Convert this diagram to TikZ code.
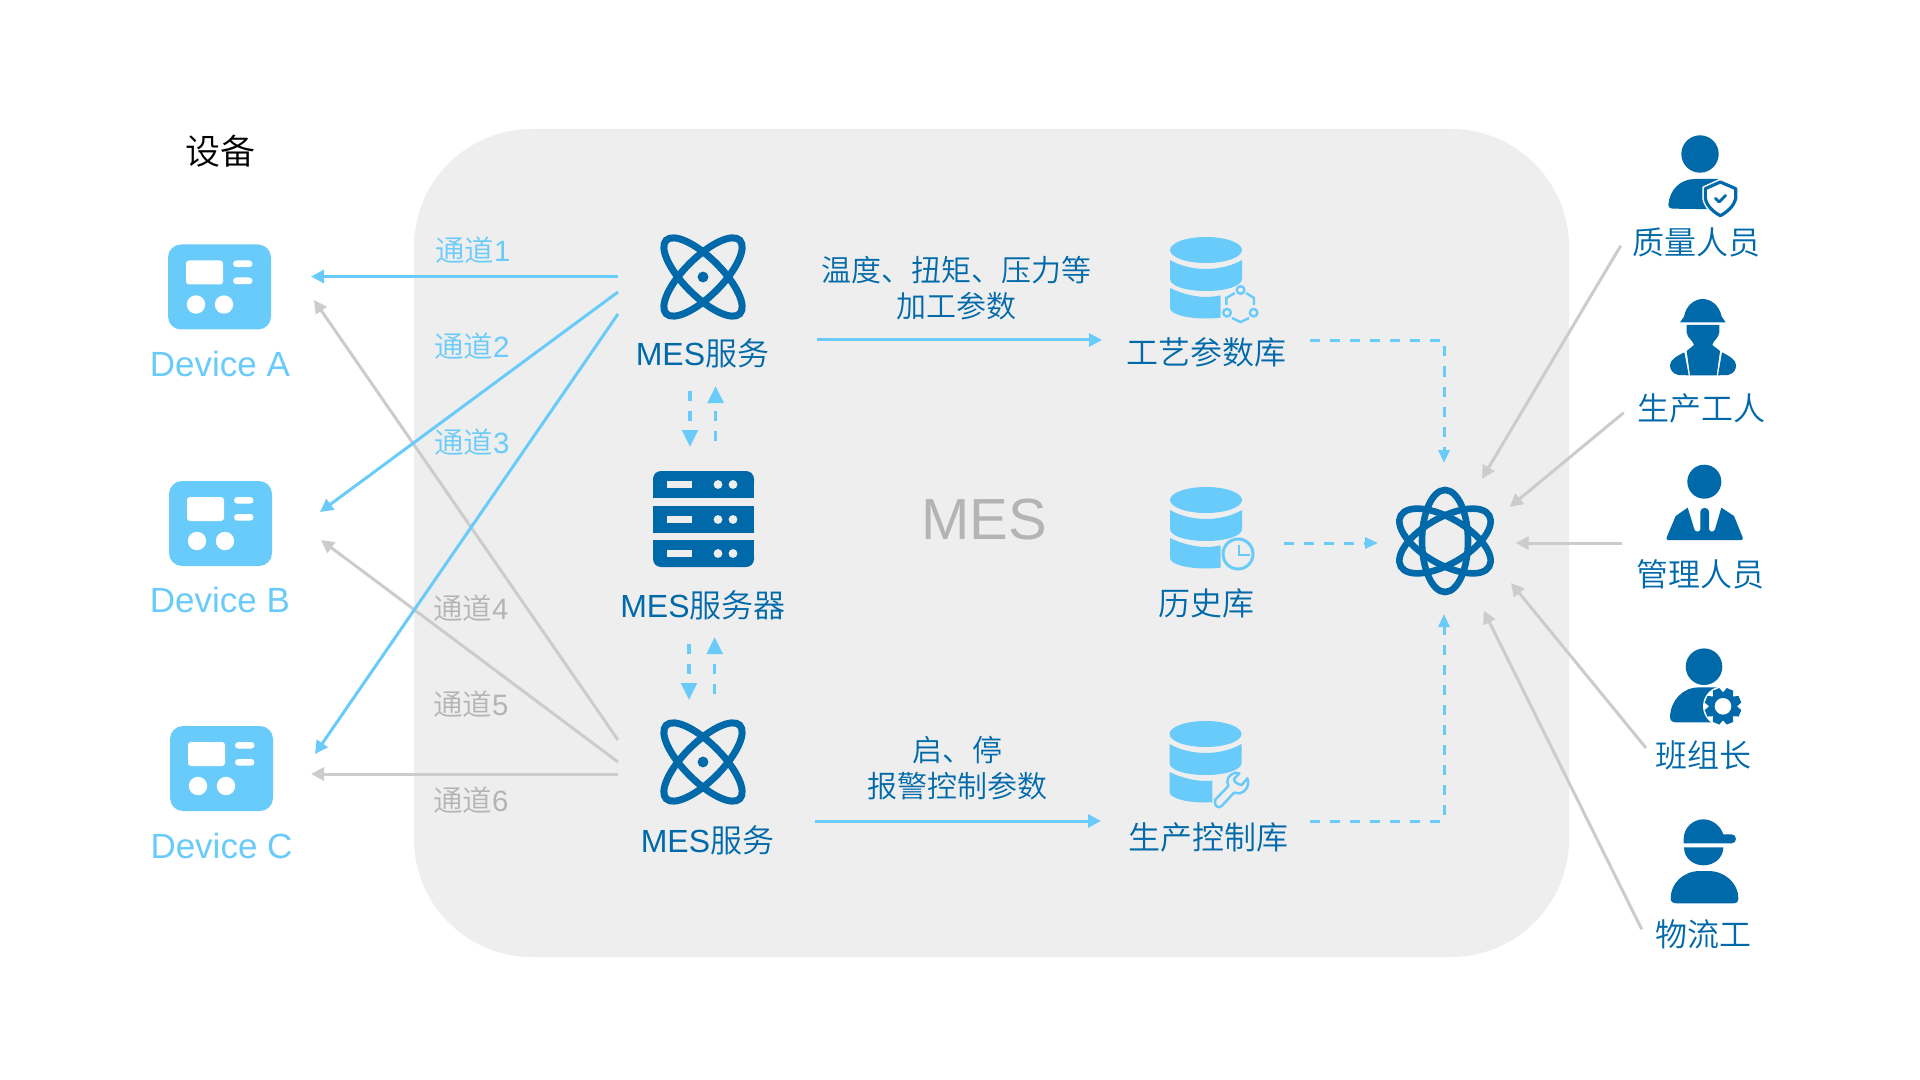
\documentclass[tikz,border=0pt]{standalone}
\usepackage{fontspec}
\usetikzlibrary{arrows.meta}
\newfontfamily\cjk{Noto Sans CJK SC}[UprightFont=* DemiLight]
\newfontfamily\lat{Liberation Sans}
\definecolor{lb}{HTML}{69CBFA}
\definecolor{db}{HTML}{0069AA}
\definecolor{pn}{HTML}{EEEEEE}
\definecolor{gl}{HTML}{CCCCCC}
\definecolor{gt}{HTML}{B4B4B4}
\tikzset{
 lab/.style={inner sep=0pt,align=center,text=db,font=\cjk\fontsize{16}{18}\selectfont},
 edgelab/.style={lab,font=\cjk\fontsize{15}{18}\selectfont},
 chan/.style={inner sep=0pt,text=lb,font=\cjk\fontsize{14.7}{17}\selectfont},
 changray/.style={chan,text=gt},
 devlab/.style={inner sep=0pt,text=lb,font=\lat\fontsize{17.5}{20}\selectfont},
 bluearrow/.style={draw=lb,line width=1.5pt,-{Triangle[length=6.5pt,width=6.5pt,fill=lb]}},
 grayarrow/.style={draw=gl,line width=1.5pt,-{Triangle[length=6.5pt,width=6.5pt,fill=gl]}},
 dasharrow/.style={draw=lb,line width=1.5pt,dash pattern=on 5pt off 5pt,-{Triangle[length=6.5pt,width=5.5pt,fill=lb]}},
 dashbig/.style={draw=lb,line width=1.7pt,dash pattern=on 5pt off 5pt,-{Triangle[length=8.5pt,width=7.8pt,fill=lb]}},
}
\newcommand{\deviceicon}[2]{%
 \begin{scope}[shift={(#1,#2)}]
  \fill[lb,rounded corners=6.5pt] (168,244) rectangle (271,329);
  \fill[white,rounded corners=1.5pt] (186,260) rectangle (223,284);
  \fill[white,rounded corners=1.7pt] (233,260) rectangle (252.5,266.7);
  \fill[white,rounded corners=1.7pt] (233,277) rectangle (252.5,283.7);
  \fill[white] (196,304) circle[radius=9.2];
  \fill[white] (224,304) circle[radius=9.2];
 \end{scope}}
\newcommand{\atomicon}[2]{%
 \draw[db,line width=3.5pt,rotate around={45:(#1,#2)}] (#1,#2) ellipse[x radius=52,y radius=19];
 \draw[db,line width=3.5pt,rotate around={-45:(#1,#2)}] (#1,#2) ellipse[x radius=52,y radius=19];
 \fill[db] (#1,#2) circle[radius=5.4];}
\newcommand{\dbicon}[3]{%
 \begin{scope}[shift={(#1,#2)}]
  \fill[lb] (0,0) ellipse[x radius=36,y radius=13];
  \fill[lb] (-36,10) .. controls (-26,16) and (-12,19) .. (0,19) .. controls (12,19) and (26,16) .. (36,10) -- (36,29) .. controls (36,36) and (20,41) .. (0,41) .. controls (-20,41) and (-36,36) .. (-36,29) -- cycle;
  \begin{scope}
   \clip (-40,30) rectangle (#3,75);
   \fill[lb] (-36,38) .. controls (-26,43) and (-12,47) .. (0,47) .. controls (12,47) and (26,43) .. (36,38) -- (36,58) .. controls (36,64) and (20,68.5) .. (0,68.5) .. controls (-20,68.5) and (-36,64) .. (-36,58) -- cycle;
  \end{scope}
 \end{scope}}
\begin{document}
\begin{tikzpicture}[x=0.5pt,y=-0.5pt]
\useasboundingbox (0,0) rectangle (1920,1080);
\fill[white] (0,0) rectangle (1920,1080);
\fill[pn,rounded corners=59pt] (414,129) rectangle (1569,957);

% --- texts
\node[inner sep=0pt,font=\cjk\fontsize{17.5}{20}\selectfont] (title) at (220,151) {设备};
\node[devlab] (devA) at (220,363.5) {Device A};
\node[devlab] (devB) at (220,599.5) {Device B};
\node[devlab] (devC) at (221.5,845.5) {Device C};
\node[chan] (ch1) at (473,250) {通道{\lat 1}};
\node[chan] (ch2) at (472,346) {通道{\lat 2}};
\node[chan] (ch3) at (472,442) {通道{\lat 3}};
\node[changray] (ch4) at (471,608.5) {通道{\lat 4}};
\node[changray] (ch5) at (471,704) {通道{\lat 5}};
\node[changray] (ch6) at (471,800) {通道{\lat 6}};
\node[lab] (svc1) at (702.5,353) {{\lat MES}服务};
\node[lab] (srv) at (703,605) {{\lat MES}服务器};
\node[lab] (svc2) at (707.5,840) {{\lat MES}服务};
\node[inner sep=0pt,text=gt,font=\lat\fontsize{29}{32}\selectfont] (mes) at (984,520) {MES};
\node[edgelab] (e1) at (956,288.5) {温度、扭矩、压力等\\加工参数};
\node[edgelab] (e2) at (957,768.5) {启、停\\报警控制参数};
\node[lab] (d1) at (1206.5,352) {工艺参数库};
\node[lab] (d2) at (1206,603) {历史库};
\node[lab] (d3) at (1208,837) {生产控制库};
\node[lab] (p1) at (1696.5,242) {质量人员};
\node[lab] (p2) at (1701,408) {生产工人};
\node[lab] (p3) at (1700.5,574.5) {管理人员};
\node[lab] (p4) at (1703,755) {班组长};
\node[lab] (p5) at (1703,934) {物流工};

% --- device icons
\deviceicon{0}{0.5}
\deviceicon{1}{237}
\deviceicon{2}{482}

% --- MES service atoms
\atomicon{703}{277}
\atomicon{703}{762}

% --- server
\fill[db,rounded corners=4pt] (653,471) rectangle (754,490);
\fill[db] (653,482) rectangle (754,498);
\fill[db] (653,506) rectangle (754,533);
\fill[db,rounded corners=4pt] (653,548) rectangle (754,567);
\fill[db] (653,540) rectangle (754,556);
\foreach \yy in {484.5,519.5,553.5}{
 \fill[pn] (667,\yy-3.7) rectangle (692,\yy+3.7);
 \fill[pn] (718,\yy) circle[radius=4.4];
 \fill[pn] (733,\yy) circle[radius=4.4];
}

% --- databases
\dbicon{1206}{250}{14.5}
\begin{scope}[draw=lb,line width=1.2pt]
 \draw (1240.6,290) circle[radius=3.8];
 \draw (1227,312.7) circle[radius=3.8];
 \draw (1253.6,312.7) circle[radius=3.8];
 \draw (1226.3,305) -- (1226.3,298) -- (1234.8,293);
 \draw (1254,305) -- (1254,298) -- (1246,293);
 \draw (1232,318) -- (1240.6,322) -- (1249,318);
\end{scope}
\dbicon{1206}{500}{14.5}
\draw[lb,line width=1.5pt] (1238,554) circle[radius=15];
\draw[lb,line width=1.2pt] (1238.8,545) -- (1238.8,555) -- (1249.5,555);
\dbicon{1205.5}{734}{6.8}
\begin{scope}[shift={(1160,720)},scale=1/3]
 \draw[lb,line width=1.25pt,line join=round] (165,240) -- (205,198) .. controls (197,180) and (205,165) .. (225,158) -- (238,160) -- (222,177) .. controls (222,185) and (230,192) .. (245,195) -- (262,175) .. controls (270,195) and (258,215) .. (240,220) -- (222,218) -- (185,258) .. controls (178,264) and (170,262) .. (165,252) -- cycle;
\end{scope}

% --- central atom
\foreach \a in {0,60,120}{
 \draw[db,line width=3.3pt,rotate around={\a:(1445,541)}] (1445,541) ellipse[x radius=23,y radius=51];
}

% --- person: quality
\fill[db] (1700,154) circle[radius=18.7];
\begin{scope}[shift={(1660,130)},scale=1/3]
 \fill[db] (40,236) .. controls (30,236) and (25,232) .. (25,225) .. controls (28,180) and (60,147) .. (105,147) -- (175,147) -- (175,238) -- cycle;
 \fill[white] (180,146) -- (236,170) -- (236,207) .. controls (232,235) and (205,258) .. (182,268) .. controls (158,258) and (132,235) .. (127,207) -- (127,170) -- cycle;
 \draw[db,line width=1.6pt,line join=round] (181,156) -- (227,176) -- (227,205) .. controls (222,228) and (202,246) .. (181,257) .. controls (160,246) and (140,228) .. (136,205) -- (136,176) -- cycle;
 \draw[db,line width=1.4pt,line cap=round,line join=round] (166,205) -- (177,216) -- (197,196);
\end{scope}

% --- person: worker
\begin{scope}[shift={(1660,295)},scale=1/3]
 \fill[db] (60,82) -- (72,65) .. controls (78,30) and (105,12) .. (128,12) .. controls (152,12) and (178,30) .. (185,65) -- (197,82) -- cycle;
 \fill[db] (80,90) -- (178,90) -- (178,112) .. controls (176,130) and (160,135) .. (157,150) -- (180,168) -- (170,241) -- (90,241) -- (80,168) -- (102,150) .. controls (98,135) and (82,130) .. (80,112) -- cycle;
 \fill[db] (73,172) -- (86,241) -- (55,240) .. controls (35,235) and (30,222) .. (30,210) .. controls (30,195) and (50,183) .. (73,172) -- cycle;
 \fill[db] (186,172) -- (174,241) -- (204,240) .. controls (224,235) and (228,222) .. (228,210) .. controls (228,195) and (208,183) .. (186,172) -- cycle;
\end{scope}

% --- person: manager
\fill[db] (1704.3,481.7) circle[radius=17];
\begin{scope}[shift={(1660,460)},scale=1/3]
 \fill[db] (24,240) .. controls (20,240) and (18,236) .. (20,232) -- (47,168) -- (83,143) -- (103,208) .. controls (106,217) and (119,217) .. (121,208) -- (121,155) .. controls (122,140) and (146,140) .. (147,155) -- (147,208) .. controls (149,217) and (162,217) .. (165,208) -- (184,143) -- (222,168) -- (248,232) .. controls (250,236) and (248,240) .. (244,240) -- cycle;
\end{scope}

% --- person: team lead
\fill[db] (1704,666.7) circle[radius=18.3];
\begin{scope}[shift={(1660,645)},scale=1/3]
 \fill[db] (48,232) .. controls (36,232) and (30,226) .. (30,215) .. controls (32,165) and (70,127) .. (115,127) -- (175,127) -- (175,232) -- cycle;
\end{scope}
\fill[white] (1723,706.3) circle[radius=20];
\fill[db] (1723,706.3) circle[radius=13.5];
\foreach \a in {22.5,67.5,...,337.5}{
 \fill[db,rotate around={\a:(1723,706.3)}] (1719.5,706.3-18.3) -- (1726.5,706.3-18.3) -- (1729,706.3-11) -- (1717,706.3-11) -- cycle;
}
\fill[white] (1723,706.3) circle[radius=8.3];

% --- person: logistics
\begin{scope}[shift={(1380,590)},scale=1/3]
 \fill[db] (911,760) -- (911,747) .. controls (911,712) and (940,688) .. (970,688) .. controls (1000,688) and (1022,710) .. (1030,733) -- (1055,733) .. controls (1072,733) and (1072,760) .. (1055,760) -- cycle;
 \fill[db] (912,772) -- (1030,772) .. controls (1030,805) and (1000,826) .. (971,826) .. controls (940,826) and (912,805) .. (912,772) -- cycle;
 \fill[db] (890,940) .. controls (878,940) and (872,935) .. (872,925) .. controls (872,880) and (910,843) .. (960,843) -- (985,843) .. controls (1035,843) and (1075,880) .. (1075,925) .. controls (1075,935) and (1070,940) .. (1060,940) -- cycle;
\end{scope}

% --- connector ends
\coordinate (s1) at (618,276.5);   \coordinate (t1) at (311,276.5);
\coordinate (s2) at (618,292);   \coordinate (t2) at (320,512);
\coordinate (s3) at (618,314);   \coordinate (t3) at (315,754);
\coordinate (s4) at (618,740);   \coordinate (t4) at (314,300);
\coordinate (s5) at (618,762);   \coordinate (t5) at (321,540);
\coordinate (s6) at (618,774);   \coordinate (t6) at (311,774);
\coordinate (h1a) at (816.5,340); \coordinate (h1b) at (1102,340);
\coordinate (h2a) at (815,821);   \coordinate (h2b) at (1101,821);
\coordinate (u1a) at (690,391);  \coordinate (u1b) at (690,447);
\coordinate (u2a) at (715.6,441);\coordinate (u2b) at (715.6,386);
\coordinate (l1a) at (689,644);  \coordinate (l1b) at (689,700);
\coordinate (l2a) at (714.7,694);\coordinate (l2b) at (714.7,637);
\coordinate (q1) at (1310,340.5); \coordinate (q1c) at (1444,340.5); \coordinate (q1t) at (1444,463);
\coordinate (q2) at (1284,543);   \coordinate (q2t) at (1378,543);
\coordinate (q3) at (1310,821);   \coordinate (q3c) at (1444,821);  \coordinate (q3t) at (1444,614);
\coordinate (w1) at (1620.7,245.7); \coordinate (v1) at (1482,478.7);
\coordinate (w2) at (1623.7,412.7); \coordinate (v2) at (1509.7,507);
\coordinate (w3) at (1621.7,543);   \coordinate (v3) at (1515.7,543);
\coordinate (w4) at (1646,748);     \coordinate (v4) at (1511,583);
\coordinate (w5) at (1641.7,929.3); \coordinate (v5) at (1483.7,610.7);

% --- connectors
\draw[grayarrow] (s4) -- (t4);
\draw[grayarrow] (s5) -- (t5);
\draw[grayarrow] (s6) -- (t6);
\draw[bluearrow] (s1) -- (t1);
\draw[bluearrow] (s2) -- (t2);
\draw[bluearrow] (s3) -- (t3);
\draw[bluearrow] (h1a) -- (h1b);
\draw[bluearrow] (h2a) -- (h2b);
\draw[dashbig] (u1a) -- (u1b);
\draw[dashbig] (u2a) -- (u2b);
\draw[dashbig] (l1a) -- (l1b);
\draw[dashbig] (l2a) -- (l2b);
\draw[dasharrow] (q1) -- (q1c) -- (q1t);
\draw[dasharrow] (q2) -- (q2t);
\draw[dasharrow] (q3) -- (q3c) -- (q3t);
\draw[grayarrow] (w1) -- (v1);
\draw[grayarrow] (w2) -- (v2);
\draw[grayarrow] (w3) -- (v3);
\draw[grayarrow] (w4) -- (v4);
\draw[grayarrow] (w5) -- (v5);
\end{tikzpicture}
\end{document}
